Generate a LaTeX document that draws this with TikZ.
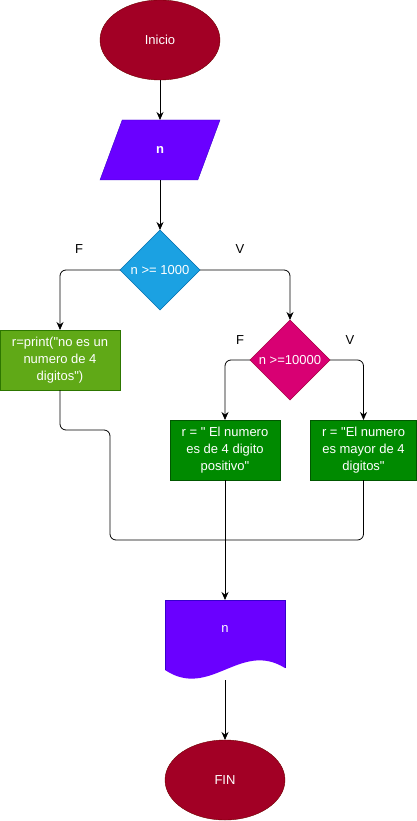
\documentclass[tikz,border=0pt]{standalone}
\usepackage{fontspec}
\setmainfont{Liberation Sans}
\usetikzlibrary{shapes.geometric,arrows.meta}
\definecolor{cIni}{HTML}{A20025}\definecolor{bIni}{HTML}{6F0000}
\definecolor{cPar}{HTML}{6A00FF}\definecolor{bPar}{HTML}{3700CC}
\definecolor{cD1}{HTML}{1BA1E2}\definecolor{bD1}{HTML}{006EAF}
\definecolor{cD2}{HTML}{D80073}\definecolor{bD2}{HTML}{A50040}
\definecolor{cG1}{HTML}{60A917}\definecolor{bG1}{HTML}{2D7600}
\definecolor{cG2}{HTML}{008A00}\definecolor{bG2}{HTML}{005700}
\newcommand{\qq}{\textquotedbl}
\tikzset{
  every node/.style={font=\fontsize{13}{17}\selectfont, inner sep=0pt, outer sep=0pt},
  term/.style={ellipse, fill=cIni, draw=bIni, text=white, minimum width=120pt, minimum height=80pt},
  iobox/.style={trapezium, trapezium left angle=71.57, trapezium right angle=108.43, trapezium stretches=true, fill=cPar, draw=bPar, text=white, minimum width=120pt, minimum height=60pt},
  dec/.style={diamond, text=white, minimum width=80pt, minimum height=80pt, aspect=1},
  procbox/.style={rectangle, text=white, align=center, minimum height=60pt},
  lbl/.style={text=black},
  conn/.style={draw=black, line width=0.8pt},
  arr/.style={conn, -{Stealth[length=8pt,width=7pt]}},
}
\begin{document}
\begin{tikzpicture}[x=1pt,y=-1pt]
\useasboundingbox (0,0) rectangle (417,821);
\node[term] (ini) at (160,40) {Inicio};
\node[iobox] (par) at (160,150) {\bfseries n};
\node[dec, fill=cD1, draw=bD1] (d1) at (160,270) {n >= 1000};
\node[procbox, fill=cG1, draw=bG1, minimum width=120pt] (b1) at (60,360) {r=print(\qq no es un\\numero de 4\\digitos\qq)};
\node[dec, fill=cD2, draw=bD2] (d2) at (290,360) {n >=10000};
\node[procbox, fill=cG2, draw=bG2, minimum width=110pt] (b3) at (225,450) {r = \qq{} El numero\\es de 4 digito\\positivo\qq};
\node[procbox, fill=cG2, draw=bG2, minimum width=106pt] (b4) at (363.5,450) {r = \qq El numero\\es mayor de 4\\digitos\qq};
\node[lbl] (f1) at (79,249) {F};
\node[lbl] (v1) at (240,249) {V};
\node[lbl] (f2) at (240,340) {F};
\node[lbl] (v2) at (350,340) {V};
% document shape
\node[minimum width=120pt, minimum height=80pt] (doc) at (225,640) {};
\fill[cPar] (doc.north west) -- (doc.north east) -- (285,668) .. controls (240,640) and (210,700) .. (165,670) -- cycle;
\draw[bPar, line width=0.6pt] (285,668) -- (doc.north east) -- (doc.north west) -- (165,670);
\node[text=white] (doct) at (225,629) {n};
\node[term] (fin) at (225,780) {FIN};
\coordinate (j1) at (110,430);
\coordinate (m) at (225,540);
\draw[arr] (ini) -- (par);
\draw[arr] (par) -- (d1);
\draw[arr, rounded corners=6pt] (d1.west) -| (b1.north);
\draw[arr, rounded corners=6pt] (d1.east) -| (d2.north);
\draw[arr, rounded corners=6pt] (d2.west) -| (b3.north);
\draw[arr, rounded corners=6pt] (d2.east) -| (b4.north);
\draw[conn, rounded corners=6pt] (b1.south) |- (j1) |- (m);
\draw[conn, rounded corners=6pt] (b4.south) |- (m);
\draw[conn] (b3.south) -- (m);
\draw[arr] (m) -- (doc.north);
\draw[arr] (doc.south) -- (fin);
\end{tikzpicture}
\end{document}
